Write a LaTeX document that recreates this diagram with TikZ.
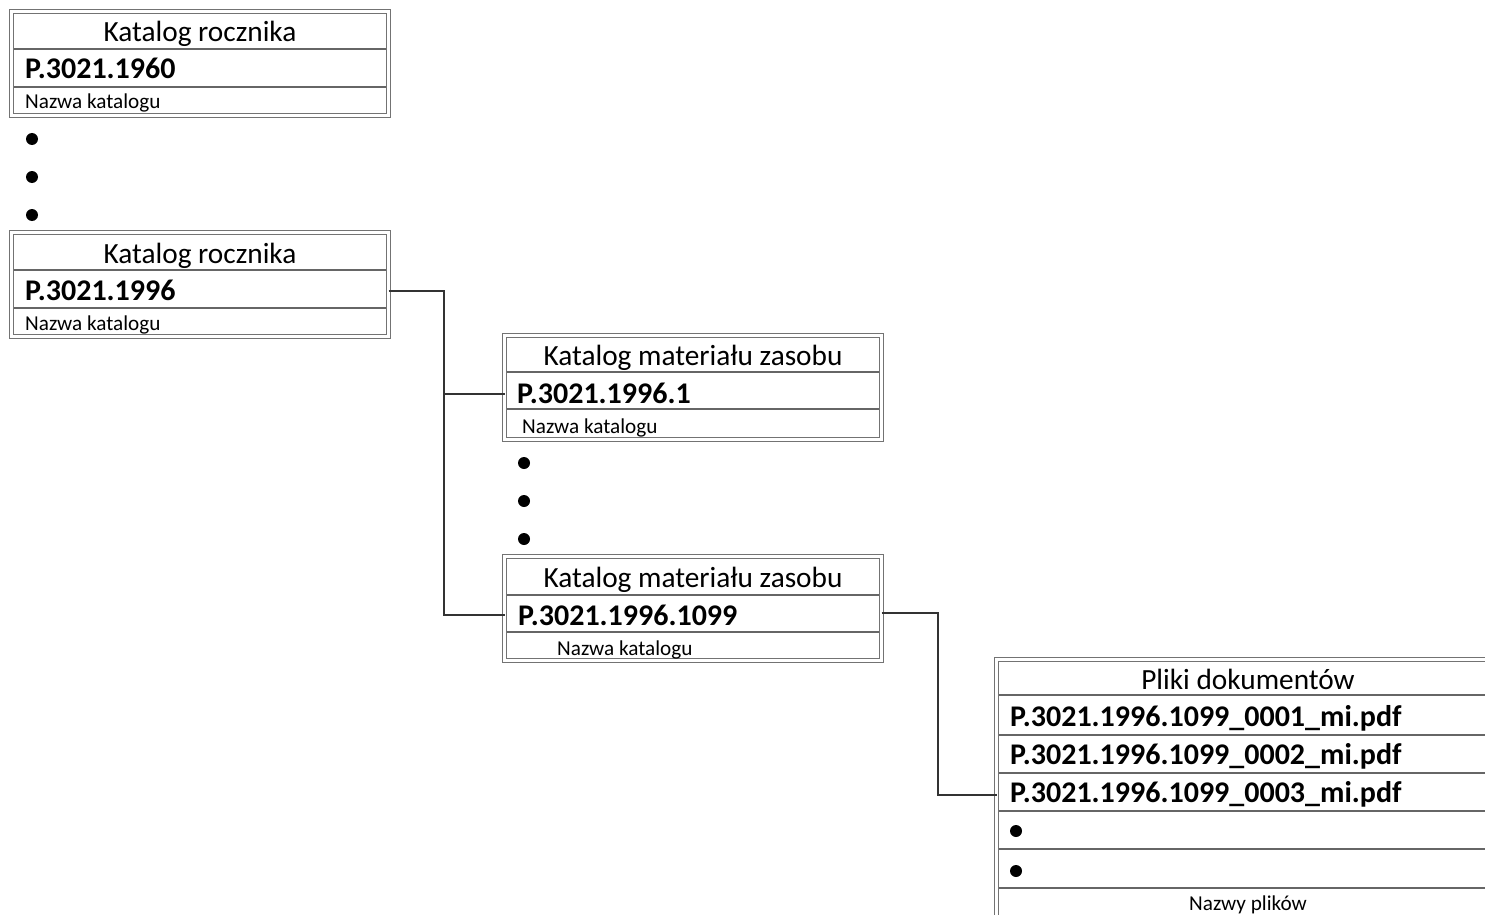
\documentclass[tikz,border=0pt]{standalone}
\usepackage{fontspec}
\setmainfont{Carlito}
\tikzset{
 frame/.style={draw=black!55, double=white, double distance=2.2pt, line width=1.4pt, rectangle, inner sep=0pt, outer sep=0pt},
 divider/.style={draw=black!60, line width=1.2pt, shorten <=2.6pt, shorten >=2.6pt},
 title/.style={anchor=base, font=\fontsize{29.3}{34}\selectfont, inner sep=0pt},
 code/.style={anchor=base west, font=\fontsize{30}{34}\selectfont\bfseries, inner sep=0pt},
 small/.style={anchor=base west, font=\fontsize{21.2}{25}\selectfont, inner sep=0pt},
 smallc/.style={anchor=base, font=\fontsize{21.2}{25}\selectfont, inner sep=0pt},
 link/.style={draw=black!80, line width=1.7pt},
 dot/.style={circle, fill=black, minimum size=12pt, inner sep=0pt},
}
\begin{document}
\begin{tikzpicture}[x=1pt,y=-1pt]
\useasboundingbox (0,0) rectangle (1485,915);
\clip (0,0) rectangle (1485,915);
\fill[white] (0,0) rectangle (1485,915);

% Box 1
\node[frame, minimum width=377pt, minimum height=104pt] (k1) at (200,63.5) {};
\draw[divider] (k1.west |- 0,49) -- (k1.east |- 0,49);
\draw[divider] (k1.west |- 0,87) -- (k1.east |- 0,87);
\node[title] (k1t) at (200,42) {Katalog rocznika};
\node[code] (k1c) at (25,79) {P.3021.1960};
\node[small] (k1n) at (25,109) {Nazwa katalogu};

\node[dot] (d1) at (32,139) {};
\node[dot] (d2) at (32,177) {};
\node[dot] (d3) at (32,215) {};

% Box 2
\node[frame, minimum width=377pt, minimum height=104pt] (k2) at (200,284.5) {};
\draw[divider] (k2.west |- 0,270) -- (k2.east |- 0,270);
\draw[divider] (k2.west |- 0,308) -- (k2.east |- 0,308);
\node[title] (k2t) at (200,263) {Katalog rocznika};
\node[code] (k2c) at (25,300) {P.3021.1996};
\node[small] (k2n) at (25,330) {Nazwa katalogu};

% Box 3
\node[frame, minimum width=377pt, minimum height=104pt] (k3) at (693,387.5) {};
\draw[divider] (k3.west |- 0,372) -- (k3.east |- 0,372);
\draw[divider] (k3.west |- 0,409) -- (k3.east |- 0,409);
\node[title] (k3t) at (693,365) {Katalog materiału zasobu};
\node[code] (k3c) at (517,403) {P.3021.1996.1};
\node[small] (k3n) at (522,433) {Nazwa katalogu};

\node[dot] (d4) at (524,463) {};
\node[dot] (d5) at (524,501) {};
\node[dot] (d6) at (524,539) {};

% Box 4
\node[frame, minimum width=377pt, minimum height=104pt] (k4) at (693,608.5) {};
\draw[divider] (k4.west |- 0,595) -- (k4.east |- 0,595);
\draw[divider] (k4.west |- 0,632) -- (k4.east |- 0,632);
\node[title] (k4t) at (693,587) {Katalog materiału zasobu};
\node[code] (k4c) at (518,625) {P.3021.1996.1099};
\node[small] (k4n) at (557,655) {Nazwa katalogu};

% Box 5
\node[frame, minimum width=504pt, minimum height=272pt] (k5) at (1248.5,795.5) {};
\foreach \yy in {695,735,773,811,849,888}
  \draw[divider] (k5.west |- 0,\yy) -- (k5.east |- 0,\yy);
\node[title] (k5t) at (1248,689) {Pliki dokumentów};
\node[code] (f1) at (1010,726) {P.3021.1996.1099\_0001\_mi.pdf};
\node[code] (f2) at (1010,764) {P.3021.1996.1099\_0002\_mi.pdf};
\node[code] (f3) at (1010,802) {P.3021.1996.1099\_0003\_mi.pdf};
\node[dot] (d7) at (1016,831) {};
\node[dot] (d8) at (1016,871) {};
\node[smallc] (k5n) at (1248,910) {Nazwy plików};

% Connectors
\coordinate (j1) at (444,291);
\coordinate (j2) at (444,615);
\coordinate (j3) at (444,394);
\coordinate (j4) at (938,613);
\coordinate (j5) at (938,795);
\draw[link] (k2.east |- j1) -- (j1) -- (j2) -- (k4.west |- j2);
\draw[link] (j3) -- (k3.west |- j3);
\draw[link] (k4.east |- j4) -- (j4) -- (j5) -- (k5.west |- j5);
\end{tikzpicture}
\end{document}
